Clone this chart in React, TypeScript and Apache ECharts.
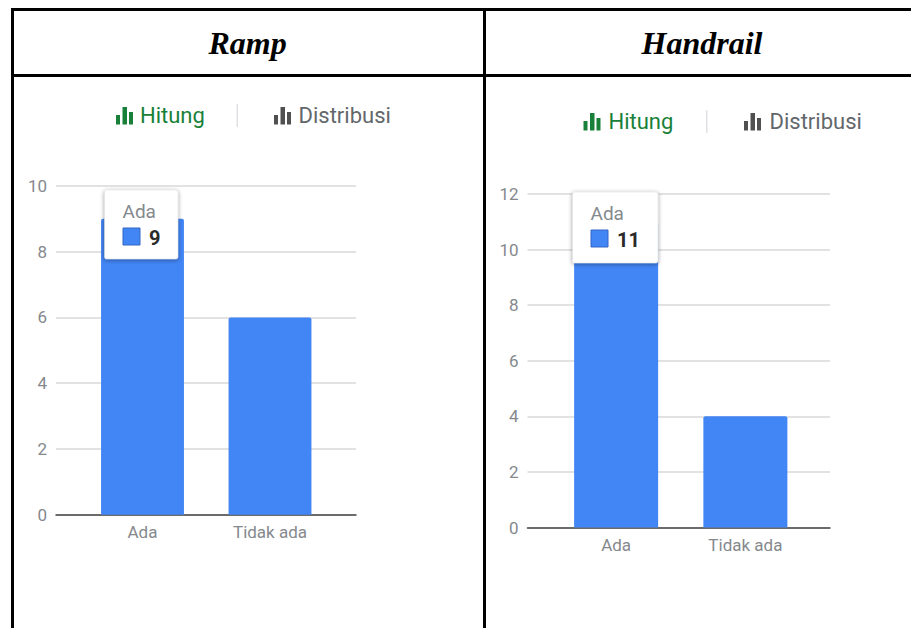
import React, { useEffect, useRef } from "react";
import * as echarts from "echarts";

const categories = ["Ada", "Tidak ada"];
const rampValues = [9, 6];
const handrailValues = [11, 4];
const rampTicks = { max: 10, interval: 2 };
const handrailTicks = { max: 12, interval: 2 };
const headers = ["Ramp", "Handrail"];
const legendLabels = ["Hitung", "Distribusi"];

const BLUE = "#4285f4";
const GREY = "#85898d";
const FONT = "Roboto, sans-serif";

function legend(iconA: number, textA: number, div: number, iconB: number, textB: number, y: number) {
  const icon = (x: number, color: string) => [
    { type: "rect", z: 20, shape: { x, y: y + 8, width: 4, height: 9.5 }, style: { fill: color } },
    { type: "rect", z: 20, shape: { x: x + 6.5, y, width: 4.5, height: 17.5 }, style: { fill: color } },
    { type: "rect", z: 20, shape: { x: x + 13, y: y + 5, width: 4, height: 12.5 }, style: { fill: color } },
  ];
  return [
    ...icon(iconA, "#188038"),
    { type: "text", z: 20, x: textA, y: y + 8, style: { text: legendLabels[0], fill: "#188038", font: `400 22px ${FONT}`, textVerticalAlign: "middle" } },
    { type: "rect", z: 20, shape: { x: div, y: y - 3, width: 1.5, height: 23 }, style: { fill: "#dfe1e4" } },
    ...icon(iconB, "#505050"),
    { type: "text", z: 20, x: textB, y: y + 8, style: { text: legendLabels[1], fill: "#63676b", font: `400 22px ${FONT}`, textVerticalAlign: "middle" } },
  ];
}

function tooltip(x: number, y: number, w: number, h: number, label: string, value: number) {
  return [
    { type: "rect", z: 30, shape: { x, y, width: w, height: h, r: 2 }, style: { fill: "#fff", stroke: "#d8d8d8", lineWidth: 0.5, shadowBlur: 4, shadowColor: "rgba(0,0,0,0.4)", shadowOffsetY: 1 } },
    { type: "text", z: 31, x: x + 18, y: y + 21, style: { text: label, fill: "#85898d", font: `400 19px ${FONT}`, textVerticalAlign: "middle" } },
    { type: "rect", z: 31, shape: { x: x + 18.5, y: y + 38, width: 17, height: 17 }, style: { fill: BLUE, stroke: "#3367c4", lineWidth: 1 } },
    { type: "text", z: 31, x: x + 44.5, y: y + 47.5, style: { text: String(value), fill: "#2a2a2a", font: `700 20px ${FONT}`, textVerticalAlign: "middle" } },
  ];
}

export default function App() {
  const ref = useRef<HTMLDivElement>(null);
  useEffect(() => {
    document.body.style.margin = "0";
    const chart = echarts.init(ref.current!, undefined, { renderer: "svg" });
    const black = { fill: "#000" };
    const line = (x: number, y: number, width: number, height: number) => ({ type: "rect", z: 40, shape: { x, y, width, height }, style: black });
    const panels = [
      { frame: { left: 56, top: 186, width: 300, height: 328.7 }, bars: { left: 78.75, top: 186, width: 255, height: 328.7 }, ticks: rampTicks, values: rampValues },
      { frame: { left: 527.5, top: 194, width: 302.5, height: 333.5 }, bars: { left: 551.5, top: 194, width: 258.5, height: 333.5 }, ticks: handrailTicks, values: handrailValues },
    ];
    const grid: any[] = [];
    const xAxis: any[] = [];
    const yAxis: any[] = [];
    const series: any[] = [];
    panels.forEach((p, i) => {
      grid.push(p.frame, p.bars);
      const fi = i * 2, bi = i * 2 + 1;
      xAxis.push(
        { gridIndex: fi, type: "category", data: categories, axisLine: { show: true, onZero: false, lineStyle: { color: "#444", width: 1.5 } }, axisTick: { show: false }, axisLabel: { show: false } },
        { gridIndex: bi, type: "category", data: categories, axisLine: { show: false }, axisTick: { show: false }, axisLabel: { color: GREY, fontFamily: FONT, fontSize: 17, margin: 8.5 } },
      );
      yAxis.push(
        { gridIndex: fi, type: "value", min: 0, max: p.ticks.max, interval: p.ticks.interval, axisLine: { show: false }, axisTick: { show: false }, axisLabel: { color: GREY, fontFamily: FONT, fontSize: 17, margin: 9 }, splitLine: { lineStyle: { color: "#d9d9d9", width: 1.5 } } },
        { gridIndex: bi, type: "value", min: 0, max: p.ticks.max, interval: p.ticks.interval, axisLine: { show: false }, axisTick: { show: false }, axisLabel: { show: false }, splitLine: { show: false } },
      );
      series.push({ type: "bar", xAxisIndex: bi, yAxisIndex: bi, data: p.values, barWidth: "65%", z: 5, itemStyle: { color: BLUE, borderRadius: [2, 2, 0, 0] } });
    });
    chart.setOption({
      animation: false,
      backgroundColor: "#fff",
      grid, xAxis, yAxis, series,
      graphic: [
        line(11, 8, 900, 3), line(11, 74, 900, 3), line(11, 8, 3, 620), line(483, 8, 3, 620),
        { type: "text", z: 40, x: 247.5, y: 43, style: { text: headers[0], fill: "#000", font: "italic 700 32px 'Liberation Serif'", textAlign: "center", textVerticalAlign: "middle" } },
        { type: "text", z: 40, x: 702, y: 43, style: { text: headers[1], fill: "#000", font: "italic 700 32px 'Liberation Serif'", textAlign: "center", textVerticalAlign: "middle" } },
        ...legend(116, 140, 236.5, 274, 298.5, 107),
        ...legend(583.5, 608.5, 706, 744, 769.5, 113),
        ...tooltip(104.5, 190, 73.5, 69, categories[0], rampValues[0]),
        ...tooltip(572.5, 192, 85.5, 71, categories[0], handrailValues[0]),
      ],
    });
    return () => chart.dispose();
  }, []);
  return <div ref={ref} style={{ position: "absolute", left: 0, top: 0, width: 911, height: 628 }} />;
}
